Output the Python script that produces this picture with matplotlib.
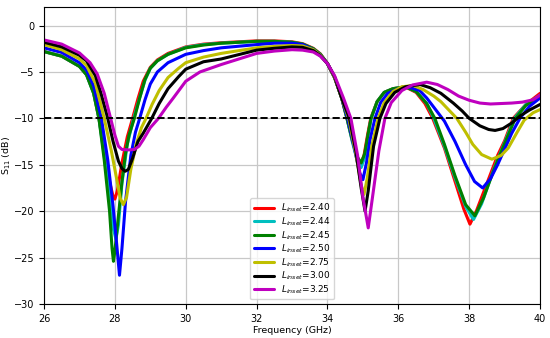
import matplotlib
matplotlib.use("Agg")
import matplotlib.pyplot as plt

# ── Data ──────────────────────────────────────────────────────────────────────

labels = ["2.40", "2.44", "2.45", "2.50", "2.75", "3.00", "3.25"]
colors = ["r", "c", "g", "b", "y", "k", "m"]

freq_240 = [26.0, 26.5, 27.0, 27.2, 27.4, 27.55, 27.7, 27.85, 27.95, 28.0, 28.07, 28.2,
            28.35, 28.5, 28.65, 28.8, 29.0, 29.2, 29.5, 30.0, 30.5, 31.0, 32.0, 32.5,
            33.0, 33.3, 33.6, 33.8, 34.0, 34.2, 34.4, 34.55, 34.7, 34.85, 34.93, 35.03,
            35.13, 35.22, 35.4, 35.6, 35.85, 36.19, 36.5, 36.75, 36.97, 37.3, 37.6, 37.85,
            38.02, 38.2, 38.5, 38.8, 39.0, 39.24, 39.6, 40.0]
s11_240 = [-2.8, -3.3, -4.4, -5.3, -7.2, -10.0, -13.5, -16.8, -18.4, -18.7, -17.8, -14.8,
           -12.0, -10.0, -7.9, -6.0, -4.5, -3.7, -3.0, -2.3, -2.0, -1.85, -1.65, -1.65,
           -1.75, -1.95, -2.45, -3.05, -4.1, -5.6, -7.8, -10.0, -12.4, -14.4, -15.0, -14.0,
           -11.8, -10.0, -8.2, -7.2, -6.8, -6.6, -7.2, -8.4, -10.0, -13.2, -16.8, -19.8,
           -21.4, -20.0, -17.0, -14.0, -12.4, -10.0, -8.5, -7.3]

freq_244 = [26.0, 26.5, 27.0, 27.2, 27.4, 27.55, 27.7, 27.85, 27.95, 28.03, 28.1, 28.2,
            28.35, 28.53, 28.7, 28.85, 29.0, 29.2, 29.5, 30.0, 30.5, 31.0, 32.0, 32.5,
            33.0, 33.3, 33.6, 33.8, 34.0, 34.2, 34.4, 34.55, 34.7, 34.85, 34.95, 35.05,
            35.15, 35.23, 35.4, 35.6, 35.85, 36.2, 36.5, 36.8, 37.0, 37.3, 37.6, 37.9,
            38.12, 38.35, 38.7, 39.0, 39.27, 39.6, 40.0]
s11_244 = [-2.8, -3.3, -4.4, -5.3, -7.3, -10.0, -14.0, -18.5, -21.8, -23.0, -21.5, -17.0,
           -12.8, -10.0, -7.8, -5.9, -4.6, -3.8, -3.1, -2.35, -2.05, -1.9, -1.7, -1.7,
           -1.8, -2.0, -2.5, -3.1, -4.1, -5.6, -7.8, -10.0, -12.5, -14.7, -15.3, -14.2,
           -11.8, -10.0, -8.2, -7.2, -6.8, -6.6, -7.1, -8.4, -10.0, -13.0, -16.4, -19.5,
           -20.9, -19.2, -15.4, -12.6, -10.0, -8.5, -7.5]

freq_245 = [26.0, 26.5, 27.0, 27.2, 27.4, 27.55, 27.7, 27.85, 27.92, 27.96, 28.0, 28.1,
            28.2, 28.3, 28.4, 28.55, 28.7, 28.85, 29.0, 29.2, 29.5, 30.0, 30.5, 31.0,
            32.0, 32.5, 33.0, 33.3, 33.6, 33.8, 34.0, 34.2, 34.4, 34.55, 34.7, 34.85,
            34.95, 35.05, 35.15, 35.23, 35.4, 35.6, 35.85, 36.2, 36.5, 36.8, 37.03, 37.3,
            37.6, 37.9, 38.16, 38.4, 38.7, 39.0, 39.3, 39.6, 40.0]
s11_245 = [-2.8, -3.3, -4.4, -5.3, -7.3, -10.0, -14.5, -20.0, -24.0, -25.4, -24.3, -20.5,
           -16.8, -13.8, -11.8, -10.0, -7.8, -5.8, -4.6, -3.8, -3.1, -2.4, -2.1, -1.9,
           -1.7, -1.7, -1.8, -2.0, -2.5, -3.1, -4.1, -5.6, -7.8, -10.0, -12.3, -14.2,
           -14.8, -13.8, -11.6, -10.0, -8.2, -7.2, -6.8, -6.6, -7.1, -8.4, -10.0, -12.8,
           -16.2, -19.3, -20.5, -18.6, -15.5, -12.7, -10.0, -8.6, -7.6]

freq_250 = [26.0, 26.5, 27.0, 27.2, 27.4, 27.62, 27.8, 27.95, 28.05, 28.13, 28.2, 28.3,
            28.45, 28.58, 28.7, 28.85, 29.0, 29.2, 29.5, 30.0, 30.5, 31.0, 32.0, 32.5,
            33.0, 33.3, 33.6, 33.8, 34.0, 34.2, 34.4, 34.57, 34.75, 34.9, 35.0, 35.1,
            35.2, 35.34, 35.5, 35.7, 36.0, 36.27, 36.6, 36.8, 37.0, 37.3, 37.6, 37.9,
            38.15, 38.38, 38.6, 38.8, 39.0, 39.2, 39.43, 39.7, 40.0]
s11_250 = [-2.4, -2.9, -4.0, -4.8, -6.5, -10.0, -14.5, -19.5, -23.5, -26.9, -24.0, -19.0,
           -14.0, -11.5, -10.0, -8.0, -6.3, -5.0, -4.0, -3.1, -2.7, -2.4, -2.05, -1.9,
           -1.9, -2.05, -2.6, -3.2, -4.1, -5.6, -7.8, -10.0, -13.0, -15.8, -16.6, -14.8,
           -12.3, -10.0, -8.3, -7.3, -6.8, -6.6, -7.0, -7.8, -8.8, -10.3, -12.5, -15.0,
           -16.8, -17.5, -16.5, -15.0, -13.3, -11.6, -10.0, -8.7, -7.8]

freq_275 = [26.0, 26.5, 27.0, 27.2, 27.45, 27.7, 27.9, 28.05, 28.15, 28.24, 28.33, 28.45,
            28.6, 28.75, 28.88, 29.05, 29.25, 29.5, 29.8, 30.0, 30.5, 31.0, 32.0, 32.5,
            33.0, 33.3, 33.6, 33.8, 34.0, 34.2, 34.4, 34.6, 34.8, 34.95, 35.03, 35.12,
            35.25, 35.43, 35.6, 35.85, 36.1, 36.42, 36.7, 37.0, 37.2, 37.45, 37.65, 37.9,
            38.1, 38.35, 38.64, 38.9, 39.1, 39.35, 39.55, 39.8, 40.0]
s11_275 = [-2.05, -2.6, -3.6, -4.3, -6.2, -10.0, -13.5, -16.5, -18.6, -19.3, -18.5, -15.5,
           -12.8, -11.0, -10.0, -8.5, -7.0, -5.6, -4.6, -4.0, -3.4, -3.0, -2.4, -2.25,
           -2.15, -2.2, -2.6, -3.2, -4.1, -5.6, -7.8, -10.0, -13.8, -17.2, -18.2, -16.5,
           -13.0, -10.0, -8.3, -7.1, -6.6, -6.45, -6.9, -7.6, -8.2, -9.2, -10.0, -11.5,
           -12.8, -13.9, -14.4, -14.0, -13.2, -11.5, -10.2, -9.4, -9.05]

freq_300 = [26.0, 26.5, 27.0, 27.2, 27.45, 27.6, 27.8, 27.95, 28.1, 28.2, 28.29, 28.38,
            28.5, 28.65, 28.8, 29.04, 29.25, 29.5, 29.8, 30.0, 30.5, 31.0, 32.0, 32.5,
            33.0, 33.3, 33.6, 33.8, 34.0, 34.2, 34.4, 34.62, 34.8, 34.95, 35.06, 35.15,
            35.3, 35.48, 35.65, 35.9, 36.2, 36.61, 36.9, 37.2, 37.55, 37.8, 38.0, 38.3,
            38.55, 38.73, 38.95, 39.2, 39.45, 39.7, 40.0]
s11_300 = [-1.8, -2.3, -3.2, -3.8, -5.4, -7.2, -10.0, -12.5, -14.6, -15.4, -15.7, -15.5,
           -14.3, -12.5, -11.6, -10.0, -8.4, -6.8, -5.5, -4.7, -3.9, -3.6, -2.65, -2.45,
           -2.3, -2.35, -2.7, -3.25, -4.1, -5.5, -7.8, -10.0, -13.5, -17.5, -20.0, -17.8,
           -13.0, -10.0, -8.4, -7.2, -6.6, -6.35, -6.7, -7.3, -8.35, -9.2, -10.0, -10.8,
           -11.2, -11.3, -11.1, -10.5, -9.7, -9.1, -8.5]

freq_325 = [26.0, 26.5, 27.0, 27.3, 27.5, 27.7, 27.88, 28.0, 28.1, 28.2, 28.4, 28.55,
            28.68, 28.8, 29.0, 29.23, 29.45, 29.65, 30.0, 30.4, 31.0, 32.0, 32.5, 33.0,
            33.3, 33.6, 33.8, 34.0, 34.2, 34.45, 34.66, 34.85, 35.0, 35.15, 35.27, 35.45,
            35.62, 35.8, 36.1, 36.4, 36.8, 37.1, 37.4, 37.7, 38.0, 38.3, 38.6, 38.9,
            39.2, 39.5, 39.8, 40.0]
s11_325 = [-1.55, -2.0, -2.95, -4.0, -5.2, -7.3, -10.0, -11.8, -13.0, -13.35, -13.4, -13.35,
           -13.0, -12.3, -11.0, -10.0, -8.8, -7.8, -6.0, -5.0, -4.2, -3.0, -2.75, -2.6,
           -2.65, -2.85, -3.3, -4.1, -5.4, -7.8, -10.0, -14.0, -18.5, -21.8, -18.5, -13.5,
           -10.0, -8.3, -7.0, -6.4, -6.1, -6.35, -6.9, -7.6, -8.05, -8.35, -8.45, -8.4,
           -8.35, -8.25, -8.0, -7.5]

freqs = [freq_240, freq_244, freq_245, freq_250, freq_275, freq_300, freq_325]
s11s = [s11_240, s11_244, s11_245, s11_250, s11_275, s11_300, s11_325]

threshold_db = -10

# ── Figure ────────────────────────────────────────────────────────────────────

fig = plt.figure(figsize=(5.5, 3.38), dpi=100)
ax = fig.add_axes([0.08, 0.1006, 0.902, 0.8787])

for f, s, c, lab in zip(freqs, s11s, colors, labels):
    ax.plot(f, s, color=c, linewidth=2.2, label=r"$L_{inset}$=" + lab,
            solid_joinstyle="round", solid_capstyle="round")

ax.axhline(threshold_db, color="k", linestyle="--", linewidth=1.4)

ax.set_xlim(26, 40)
ax.set_ylim(-30, 2)
ax.set_xticks([26, 28, 30, 32, 34, 36, 38, 40])
ax.set_yticks([0, -5, -10, -15, -20, -25, -30])
ax.tick_params(labelsize=7)
ax.set_xlabel("Frequency (GHz)", fontsize=6.8, labelpad=2)
ax.set_ylabel(r"S$_{11}$ (dB)", fontsize=6.8)
ax.yaxis.set_label_coords(-0.062, 0.5)
ax.grid(True, color="#c8c8c8", linewidth=0.9)

ax.legend(loc="lower center", fontsize=6.5, handlelength=2.2,
          labelspacing=0.12, borderpad=0.4)

fig.savefig("out.png", dpi=100)
